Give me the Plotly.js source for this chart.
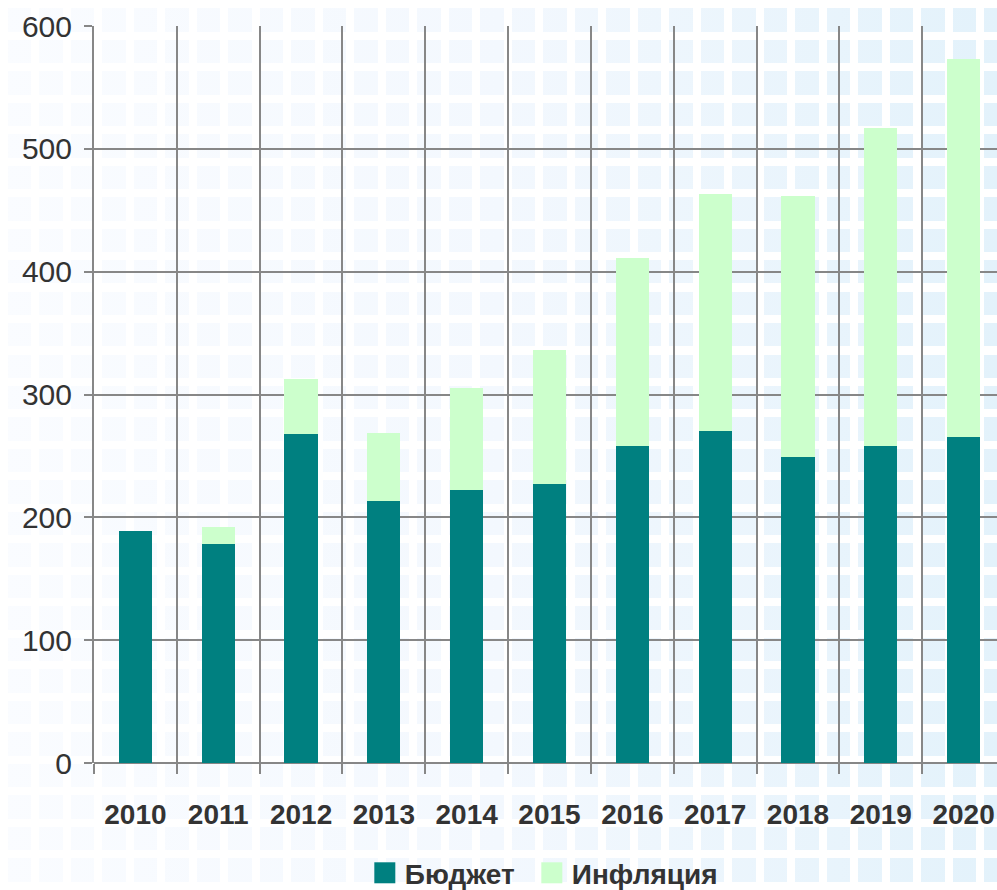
<!DOCTYPE html>
<html>
<head>
<meta charset="utf-8">
<script src="https://cdn.plot.ly/plotly-3.0.1.min.js"></script>
<style>
  html, body { margin: 0; padding: 0; width: 997px; height: 890px; overflow: hidden; }
  body {
    background-image:
      repeating-linear-gradient(90deg, #ffffff 0px, #ffffff 8px, rgba(255,255,255,0) 8px, rgba(255,255,255,0) 31.5px),
      repeating-linear-gradient(0deg, #ffffff 0px, #ffffff 8px, rgba(255,255,255,0) 8px, rgba(255,255,255,0) 31.5px),
      linear-gradient(90deg, #fafcff 0%, #f3f8fe 50%, #e3f2fb 100%);
  }
  #chart { width: 1005px; height: 890px; }
  .legend .scrollbox { clip-path: none !important; }
  .legend .legendpoints path { transform: translate(20px, 0px) scale(1.75); }
</style>
</head>
<body>
<div id="chart"></div>
<script>
const years = ["2010","2011","2012","2013","2014","2015","2016","2017","2018","2019","2020"];
const budget = [189, 178, 268, 213, 222, 227, 258, 270, 249, 258, 265];
const inflation = [0, 14, 45, 56, 83, 109, 153, 193, 213, 259, 308];
const seriesNames = ["Бюджет", "Инфляция"];
const seriesColors = ["#008080", "#ccffcc"];
const yTicks = [0, 100, 200, 300, 400, 500, 600];

const traces = [
  { type: "bar", x: years, y: budget, name: seriesNames[0],
    marker: { color: seriesColors[0], line: { width: 0 } }, hoverinfo: "x+y+name" },
  { type: "bar", x: years, y: inflation, name: seriesNames[1],
    marker: { color: seriesColors[1], line: { width: 0 } }, hoverinfo: "x+y+name" }
];

const gridCol = "#878787";
const layout = {
  width: 1005, height: 890,
  barmode: "stack",
  bargap: 0.6,
  paper_bgcolor: "rgba(0,0,0,0)",
  plot_bgcolor: "rgba(0,0,0,0)",
  margin: { l: 94, r: 0, t: 26, b: 127, pad: 0 },
  font: { family: "Liberation Sans, Arial, sans-serif", color: "#333333" },
  xaxis: {
    type: "category",
    tickson: "boundaries",
    ticks: "outside", ticklen: 10, tickwidth: 2, tickcolor: gridCol,
    showgrid: true, gridcolor: gridCol, gridwidth: 2,
    showline: false,
    tickfont: { size: 28, color: "#333333", family: "Liberation Sans, Arial, sans-serif", weight: "bold" },
    ticklabelstandoff: 32,
    fixedrange: true
  },
  yaxis: {
    range: [0, 600],
    tickvals: yTicks,
    ticktext: yTicks.map(String),
    ticks: "outside", ticklen: 8, tickwidth: 2, tickcolor: gridCol,
    showgrid: true, gridcolor: gridCol, gridwidth: 2,
    zeroline: true, zerolinecolor: gridCol, zerolinewidth: 2,
    showline: true, linecolor: gridCol, linewidth: 2,
    tickfont: { size: 30, color: "#333333" },
    ticklabelstandoff: 6,
    fixedrange: true
  },
  showlegend: true,
  legend: {
    orientation: "h",
    xref: "container", yref: "container",
    x: 0.363, xanchor: "left",
    y: 0.019, yanchor: "middle",
    entrywidth: 122, entrywidthmode: "pixels",
    bgcolor: "rgba(0,0,0,0)",
    font: { size: 28, color: "#333333", weight: "bold" },
    itemclick: false, itemdoubleclick: false,
    traceorder: "normal"
  }
};

Plotly.newPlot("chart", traces, layout, { displayModeBar: false, staticPlot: true });
</script>
</body>
</html>
